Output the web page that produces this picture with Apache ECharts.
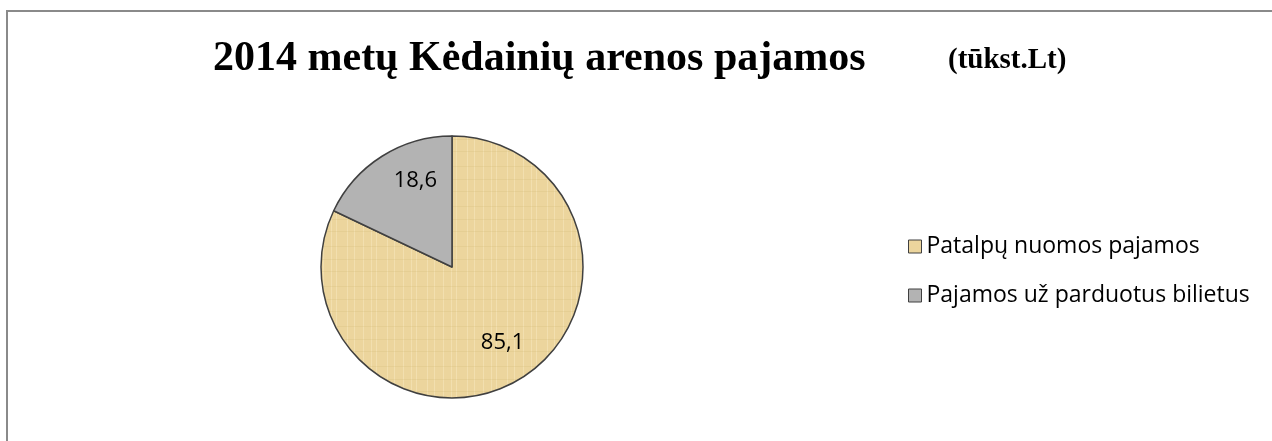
<!DOCTYPE html>
<html>
<head>
<meta charset="utf-8">
<script src="https://cdn.jsdelivr.net/npm/echarts@6/dist/echarts.min.js"></script>
<style>
  html, body { margin: 0; padding: 0; background: #fff; }
  #chart { width: 1272px; height: 441px; }
</style>
</head>
<body>
<div id="chart"></div>
<script>
// duomenys
var categories = ["Patalpų nuomos pajamos", "Pajamos už parduotus bilietus"];
var values = [85.1, 18.6];
var sliceColors = ["#ECD59D", "#B3B3B3"];
// label nudges (Excel "best fit" puts them further out than ECharts)
var labelNudge = [[14, 18], [0, -28]];

// papyrus-like texture for the big slice
function makeTexture() {
  var c = document.createElement("canvas");
  c.width = 40; c.height = 40;
  var ctx = c.getContext("2d");
  ctx.fillStyle = "#ECD59D";
  ctx.fillRect(0, 0, 40, 40);
  ctx.strokeStyle = "rgba(255,243,210,0.35)";
  ctx.lineWidth = 1;
  [3, 11, 16, 27, 34].forEach(function (x) {
    ctx.beginPath(); ctx.moveTo(x + 0.5, 0); ctx.lineTo(x + 0.5, 40); ctx.stroke();
  });
  ctx.strokeStyle = "rgba(200,175,105,0.18)";
  [6, 19, 31].forEach(function (y) {
    ctx.beginPath(); ctx.moveTo(0, y + 0.5); ctx.lineTo(40, y + 0.5); ctx.stroke();
  });
  return c;
}

var myChart = echarts.init(document.getElementById("chart"));
var seriesData = categories.map(function (name, i) {
  return {
    name: name,
    value: values[i],
    itemStyle: { color: i === 0 ? { image: makeTexture(), repeat: "repeat" } : sliceColors[i] }
  };
});

var option = {
  animation: false,
  backgroundColor: "#fff",
  title: [
    {
      text: "2014 metų Kėdainių arenos pajamos",
      left: 208,
      top: 33,
      textStyle: { fontFamily: "Liberation Serif", fontWeight: "bold", fontSize: 42, color: "#000" }
    },
    {
      text: "(tūkst.Lt)",
      left: 943,
      top: 41,
      textStyle: { fontFamily: "Liberation Serif", fontWeight: "bold", fontSize: 29, color: "#000" }
    }
  ],
  legend: {
    orient: "vertical",
    left: 903,
    top: 230,
    itemGap: 26,
    itemWidth: 13,
    itemHeight: 13,
    icon: "rect",
    data: categories.map(function (n, i) {
      return { name: n, itemStyle: { color: sliceColors[i], borderColor: "#404040", borderWidth: 1 } };
    }),
    textStyle: { fontFamily: "Open Sans", fontSize: 23, color: "#000" }
  },
  graphic: [
    {
      type: "rect",
      shape: { x: 7, y: 11, width: 1400, height: 600 },
      style: { fill: null, stroke: "#8a8a8a", lineWidth: 2 },
      silent: true
    }
  ],
  series: [
    {
      type: "pie",
      center: [452, 267],
      radius: [0, 131],
      startAngle: 90,
      clockwise: true,
      silent: true,
      itemStyle: { borderColor: "#404040", borderWidth: 1.5 },
      label: {
        show: true,
        position: "inside",
        fontFamily: "Open Sans",
        fontSize: 22,
        color: "#000",
        formatter: function (p) { return String(p.value).replace(".", ","); }
      },
      labelLine: { show: false },
      labelLayout: function (p) {
        var n = labelNudge[p.dataIndex];
        return { dx: n[0], dy: n[1] };
      },
      data: seriesData
    }
  ]
};
myChart.setOption(option);
</script>
</body>
</html>
